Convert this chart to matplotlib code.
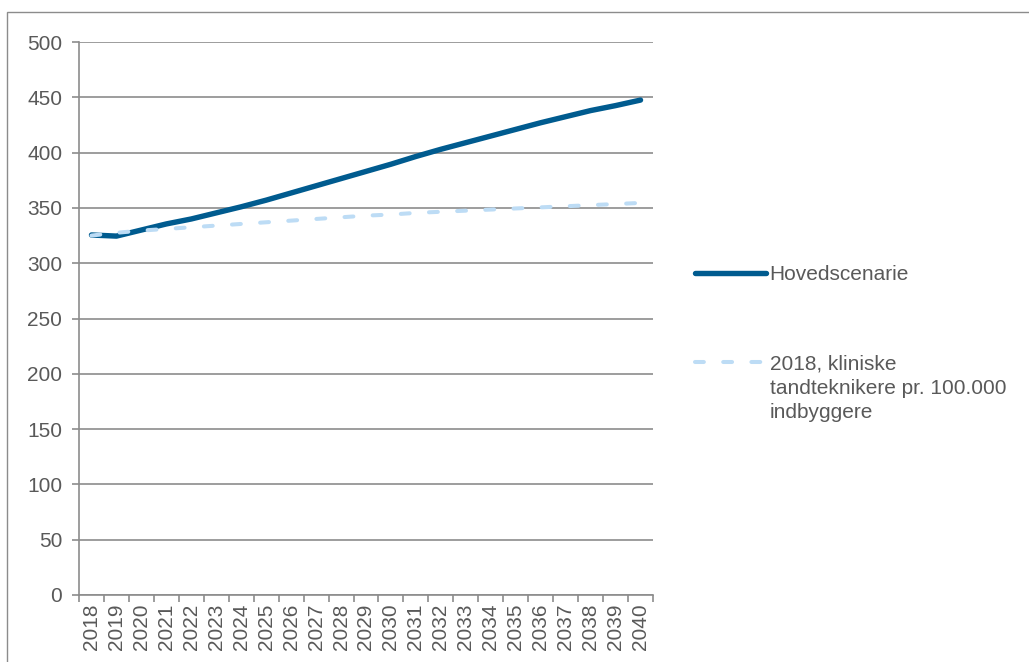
import numpy as np
import matplotlib.pyplot as plt
from matplotlib.patches import Rectangle
from matplotlib.offsetbox import HPacker

plt.rcParams['font.family'] = ['Liberation Sans', 'DejaVu Sans']

# Data
years = [str(y) for y in range(2018, 2041)]
hovedscenarie = [325.5, 324.5, 330, 335.5, 340, 345.5, 351, 357, 363.5, 370, 376.5,
                 383, 389.5, 396.5, 403, 409, 415, 421, 427, 432.5, 438, 442.5, 447.5]
niveau_2018 = [325, 327.5, 329.5, 331, 332.5, 334, 335.5, 337, 338.5, 340, 341.5,
               343, 344, 345.5, 346.5, 347.5, 348.5, 349.5, 350.5, 351.5, 352.5, 353.5, 354.5]
labels = ['Hovedscenarie', '2018, kliniske\ntandteknikere pr. 100.000\nindbyggere']

text_col = '#595959'
grid_col = '#8c8c8c'
dark_blue = '#005b8f'
light_blue = '#bddcf5'
fs = 15

W, H = 1029, 662
fig = plt.figure(figsize=(W / 100, H / 100), dpi=100)

# outer chart frame (cut off at right and bottom)
fig.patches.append(Rectangle((7 / W, -0.1), 1.2, 1 - 12 / H + 0.1, transform=fig.transFigure,
                             fill=False, edgecolor='#8c8c8c', lw=1.0))

ax = fig.add_axes([79 / W, 1 - 595 / H, (653 - 79) / W, (595 - 42) / H])

x = np.arange(len(years))
l1, = ax.plot(x, hovedscenarie, color=dark_blue, lw=3.9, solid_capstyle='round', zorder=3)
l2, = ax.plot(x, niveau_2018, color=light_blue, lw=2.9, dashes=(2.2, 4.8),
              dash_capstyle='round', zorder=4)

ax.set_xlim(-0.5, len(years) - 0.5)
ax.set_ylim(0, 500)
ax.set_yticks(np.arange(0, 501, 50))
ax.set_xticks(x)
ax.set_xticklabels(years, rotation=90)
ax.set_xticks(np.arange(-0.5, len(years), 1), minor=True)

ax.yaxis.grid(True, color=grid_col, lw=1.2)
ax.set_axisbelow(True)
for s in ['top', 'right']:
    ax.spines[s].set_visible(False)
for s in ['left', 'bottom']:
    ax.spines[s].set_color(grid_col)
    ax.spines[s].set_linewidth(1.2)

ax.tick_params(axis='x', which='major', length=0, pad=6, labelsize=fs, labelcolor=text_col)
ax.tick_params(axis='x', which='minor', length=5, width=1.2, color=grid_col, direction='out')
ax.tick_params(axis='y', length=5, width=1.2, color=grid_col, pad=7, labelsize=fs,
               labelcolor=text_col)

common = dict(frameon=False, borderpad=0, borderaxespad=0, handlelength=3.4,
              handletextpad=0.18, fontsize=fs, labelcolor=text_col,
              bbox_transform=fig.transFigure)
leg1 = fig.legend([l1], [labels[0]], loc='center left',
                  bbox_to_anchor=(695 / W, 1 - 275 / H), **common)
leg2 = fig.legend([l2], [labels[1]], loc='upper left',
                  bbox_to_anchor=(695 / W, 1 - 355 / H), **common)
for t in leg2.get_texts():
    t.set_linespacing(1.33)
# put the handle next to the first text line
for box in leg2._legend_handle_box.get_children():
    for item in box.get_children():
        if isinstance(item, HPacker):
            item.align = 'top'

fig.savefig('out.png', dpi=100)
